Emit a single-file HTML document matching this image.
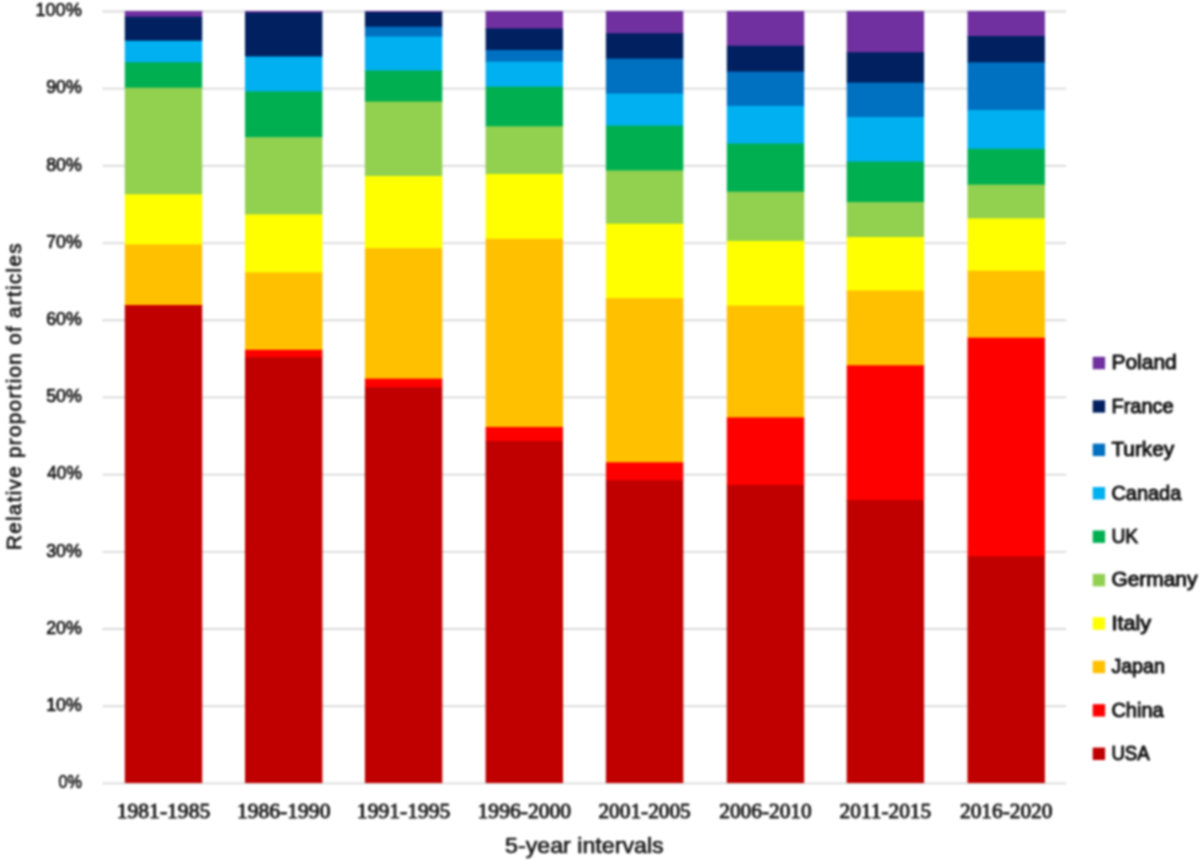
<!DOCTYPE html>
<html><head><meta charset="utf-8"><style>
html,body{margin:0;padding:0;background:#fff;width:1200px;height:860px;overflow:hidden}
svg{display:block;filter:blur(1px);}
text{stroke-linejoin:round}
.yl{font-family:"Liberation Sans",sans-serif;font-size:19.2px;fill:#101010;stroke:#101010;stroke-width:0.7px}
.xl{font-family:"Liberation Serif",serif;font-size:21px;fill:#1c1c1c;stroke:#1c1c1c;stroke-width:0.9px}
.lg{font-family:"Liberation Sans",sans-serif;font-size:20px;fill:#141414;stroke:#141414;stroke-width:1.0px}
.yt{font-size:20.6px !important;stroke-width:0.75px !important}
.at{font-family:"Liberation Sans",sans-serif;font-size:21.8px;fill:#1c1c1c;stroke:#1c1c1c;stroke-width:0.7px}
</style></head><body>
<svg width="1200" height="860" viewBox="0 0 1200 860">
<rect width="1200" height="860" fill="#fff"/>
<line x1="102.5" x2="1066" y1="783.40" y2="783.40" stroke="#D9D9D9" stroke-width="1.8"/>
<line x1="102.5" x2="1066" y1="706.21" y2="706.21" stroke="#D9D9D9" stroke-width="1.8"/>
<line x1="102.5" x2="1066" y1="629.02" y2="629.02" stroke="#D9D9D9" stroke-width="1.8"/>
<line x1="102.5" x2="1066" y1="551.83" y2="551.83" stroke="#D9D9D9" stroke-width="1.8"/>
<line x1="102.5" x2="1066" y1="474.64" y2="474.64" stroke="#D9D9D9" stroke-width="1.8"/>
<line x1="102.5" x2="1066" y1="397.45" y2="397.45" stroke="#D9D9D9" stroke-width="1.8"/>
<line x1="102.5" x2="1066" y1="320.26" y2="320.26" stroke="#D9D9D9" stroke-width="1.8"/>
<line x1="102.5" x2="1066" y1="243.07" y2="243.07" stroke="#D9D9D9" stroke-width="1.8"/>
<line x1="102.5" x2="1066" y1="165.88" y2="165.88" stroke="#D9D9D9" stroke-width="1.8"/>
<line x1="102.5" x2="1066" y1="88.69" y2="88.69" stroke="#D9D9D9" stroke-width="1.8"/>
<line x1="102.5" x2="1066" y1="11.50" y2="11.50" stroke="#D9D9D9" stroke-width="1.8"/>
<rect x="124.80" y="11.00" width="77.4" height="6.40" fill="#7030A0"/>
<rect x="124.80" y="16.70" width="77.4" height="24.70" fill="#002060"/>
<rect x="124.80" y="40.70" width="77.4" height="22.30" fill="#00B0F0"/>
<rect x="124.80" y="62.30" width="77.4" height="26.10" fill="#00B050"/>
<rect x="124.80" y="87.70" width="77.4" height="107.30" fill="#92D050"/>
<rect x="124.80" y="194.30" width="77.4" height="50.80" fill="#FFFF00"/>
<rect x="124.80" y="244.40" width="77.4" height="61.30" fill="#FFC000"/>
<rect x="124.80" y="305.00" width="77.4" height="1.00" fill="#FF0000"/>
<rect x="124.80" y="305.30" width="77.4" height="477.70" fill="#C00000"/>
<rect x="245.00" y="11.00" width="77.4" height="2.20" fill="#7030A0"/>
<rect x="245.00" y="12.50" width="77.4" height="44.70" fill="#002060"/>
<rect x="245.00" y="56.50" width="77.4" height="35.60" fill="#00B0F0"/>
<rect x="245.00" y="91.40" width="77.4" height="46.50" fill="#00B050"/>
<rect x="245.00" y="137.20" width="77.4" height="77.90" fill="#92D050"/>
<rect x="245.00" y="214.40" width="77.4" height="58.60" fill="#FFFF00"/>
<rect x="245.00" y="272.30" width="77.4" height="78.20" fill="#FFC000"/>
<rect x="245.00" y="349.80" width="77.4" height="8.10" fill="#FF0000"/>
<rect x="245.00" y="357.20" width="77.4" height="425.80" fill="#C00000"/>
<rect x="364.90" y="11.00" width="77.4" height="1.70" fill="#7030A0"/>
<rect x="364.90" y="12.00" width="77.4" height="15.40" fill="#002060"/>
<rect x="364.90" y="26.70" width="77.4" height="10.50" fill="#0070C0"/>
<rect x="364.90" y="36.50" width="77.4" height="34.70" fill="#00B0F0"/>
<rect x="364.90" y="70.50" width="77.4" height="31.80" fill="#00B050"/>
<rect x="364.90" y="101.60" width="77.4" height="75.10" fill="#92D050"/>
<rect x="364.90" y="176.00" width="77.4" height="72.80" fill="#FFFF00"/>
<rect x="364.90" y="248.10" width="77.4" height="131.20" fill="#FFC000"/>
<rect x="364.90" y="378.60" width="77.4" height="9.30" fill="#FF0000"/>
<rect x="364.90" y="387.20" width="77.4" height="395.80" fill="#C00000"/>
<rect x="485.60" y="11.00" width="77.4" height="18.10" fill="#7030A0"/>
<rect x="485.60" y="28.40" width="77.4" height="22.30" fill="#002060"/>
<rect x="485.60" y="50.00" width="77.4" height="12.30" fill="#0070C0"/>
<rect x="485.60" y="61.60" width="77.4" height="25.80" fill="#00B0F0"/>
<rect x="485.60" y="86.70" width="77.4" height="40.30" fill="#00B050"/>
<rect x="485.60" y="126.30" width="77.4" height="48.40" fill="#92D050"/>
<rect x="485.60" y="174.00" width="77.4" height="65.50" fill="#FFFF00"/>
<rect x="485.60" y="238.80" width="77.4" height="188.90" fill="#FFC000"/>
<rect x="485.60" y="427.00" width="77.4" height="14.60" fill="#FF0000"/>
<rect x="485.60" y="440.90" width="77.4" height="342.10" fill="#C00000"/>
<rect x="605.90" y="11.00" width="77.4" height="23.00" fill="#7030A0"/>
<rect x="605.90" y="33.30" width="77.4" height="26.00" fill="#002060"/>
<rect x="605.90" y="58.60" width="77.4" height="35.60" fill="#0070C0"/>
<rect x="605.90" y="93.50" width="77.4" height="32.80" fill="#00B0F0"/>
<rect x="605.90" y="125.60" width="77.4" height="45.60" fill="#00B050"/>
<rect x="605.90" y="170.50" width="77.4" height="53.90" fill="#92D050"/>
<rect x="605.90" y="223.70" width="77.4" height="75.10" fill="#FFFF00"/>
<rect x="605.90" y="298.10" width="77.4" height="164.90" fill="#FFC000"/>
<rect x="605.90" y="462.30" width="77.4" height="18.60" fill="#FF0000"/>
<rect x="605.90" y="480.20" width="77.4" height="302.80" fill="#C00000"/>
<rect x="726.80" y="11.00" width="77.4" height="35.50" fill="#7030A0"/>
<rect x="726.80" y="45.80" width="77.4" height="26.50" fill="#002060"/>
<rect x="726.80" y="71.60" width="77.4" height="34.90" fill="#0070C0"/>
<rect x="726.80" y="105.80" width="77.4" height="38.40" fill="#00B0F0"/>
<rect x="726.80" y="143.50" width="77.4" height="48.90" fill="#00B050"/>
<rect x="726.80" y="191.70" width="77.4" height="49.90" fill="#92D050"/>
<rect x="726.80" y="240.90" width="77.4" height="65.40" fill="#FFFF00"/>
<rect x="726.80" y="305.60" width="77.4" height="112.50" fill="#FFC000"/>
<rect x="726.80" y="417.40" width="77.4" height="68.20" fill="#FF0000"/>
<rect x="726.80" y="484.90" width="77.4" height="298.10" fill="#C00000"/>
<rect x="846.70" y="11.00" width="77.4" height="42.00" fill="#7030A0"/>
<rect x="846.70" y="52.30" width="77.4" height="31.00" fill="#002060"/>
<rect x="846.70" y="82.60" width="77.4" height="35.10" fill="#0070C0"/>
<rect x="846.70" y="117.00" width="77.4" height="45.30" fill="#00B0F0"/>
<rect x="846.70" y="161.60" width="77.4" height="41.20" fill="#00B050"/>
<rect x="846.70" y="202.10" width="77.4" height="35.60" fill="#92D050"/>
<rect x="846.70" y="237.00" width="77.4" height="54.20" fill="#FFFF00"/>
<rect x="846.70" y="290.50" width="77.4" height="75.50" fill="#FFC000"/>
<rect x="846.70" y="365.30" width="77.4" height="135.40" fill="#FF0000"/>
<rect x="846.70" y="500.00" width="77.4" height="283.00" fill="#C00000"/>
<rect x="967.50" y="11.00" width="77.4" height="25.70" fill="#7030A0"/>
<rect x="967.50" y="36.00" width="77.4" height="27.00" fill="#002060"/>
<rect x="967.50" y="62.30" width="77.4" height="48.40" fill="#0070C0"/>
<rect x="967.50" y="110.00" width="77.4" height="39.50" fill="#00B0F0"/>
<rect x="967.50" y="148.80" width="77.4" height="36.50" fill="#00B050"/>
<rect x="967.50" y="184.60" width="77.4" height="34.50" fill="#92D050"/>
<rect x="967.50" y="218.40" width="77.4" height="53.00" fill="#FFFF00"/>
<rect x="967.50" y="270.70" width="77.4" height="67.70" fill="#FFC000"/>
<rect x="967.50" y="337.70" width="77.4" height="219.30" fill="#FF0000"/>
<rect x="967.50" y="556.30" width="77.4" height="226.70" fill="#C00000"/>
<text id="y0" x="81.8" y="788.10" text-anchor="end" class="yl" textLength="23.38" lengthAdjust="spacingAndGlyphs">0%</text>
<text id="y1" x="81.8" y="710.91" text-anchor="end" class="yl" textLength="35.58" lengthAdjust="spacingAndGlyphs">10%</text>
<text id="y2" x="81.8" y="633.72" text-anchor="end" class="yl" textLength="35.58" lengthAdjust="spacingAndGlyphs">20%</text>
<text id="y3" x="81.8" y="556.53" text-anchor="end" class="yl" textLength="35.58" lengthAdjust="spacingAndGlyphs">30%</text>
<text id="y4" x="81.8" y="479.34" text-anchor="end" class="yl" textLength="34.66" lengthAdjust="spacingAndGlyphs">40%</text>
<text id="y5" x="81.8" y="402.15" text-anchor="end" class="yl" textLength="35.58" lengthAdjust="spacingAndGlyphs">50%</text>
<text id="y6" x="81.8" y="324.96" text-anchor="end" class="yl" textLength="35.58" lengthAdjust="spacingAndGlyphs">60%</text>
<text id="y7" x="81.8" y="247.77" text-anchor="end" class="yl" textLength="35.58" lengthAdjust="spacingAndGlyphs">70%</text>
<text id="y8" x="81.8" y="170.58" text-anchor="end" class="yl" textLength="35.58" lengthAdjust="spacingAndGlyphs">80%</text>
<text id="y9" x="81.8" y="93.39" text-anchor="end" class="yl" textLength="35.58" lengthAdjust="spacingAndGlyphs">90%</text>
<text id="y10" x="81.8" y="16.20" text-anchor="end" class="yl" textLength="46.32" lengthAdjust="spacingAndGlyphs">100%</text>
<text id="x0" x="163.50" y="818.2" text-anchor="middle" class="xl" textLength="93.43" lengthAdjust="spacingAndGlyphs">1981-1985</text>
<text id="x1" x="283.70" y="818.2" text-anchor="middle" class="xl" textLength="93.43" lengthAdjust="spacingAndGlyphs">1986-1990</text>
<text id="x2" x="403.60" y="818.2" text-anchor="middle" class="xl" textLength="93.43" lengthAdjust="spacingAndGlyphs">1991-1995</text>
<text id="x3" x="524.30" y="818.2" text-anchor="middle" class="xl" textLength="93.43" lengthAdjust="spacingAndGlyphs">1996-2000</text>
<text id="x4" x="644.60" y="818.2" text-anchor="middle" class="xl" textLength="92.40" lengthAdjust="spacingAndGlyphs">2001-2005</text>
<text id="x5" x="765.50" y="818.2" text-anchor="middle" class="xl" textLength="92.40" lengthAdjust="spacingAndGlyphs">2006-2010</text>
<text id="x6" x="885.40" y="818.2" text-anchor="middle" class="xl" textLength="91.61" lengthAdjust="spacingAndGlyphs">2011-2015</text>
<text id="x7" x="1006.20" y="818.2" text-anchor="middle" class="xl" textLength="92.40" lengthAdjust="spacingAndGlyphs">2016-2020</text>
<rect x="1092.7" y="356.80" width="12.4" height="12.4" fill="#7030A0"/>
<text id="l0" x="1111.4" y="369.30" class="lg" textLength="65.34" lengthAdjust="spacingAndGlyphs">Poland</text>
<rect x="1092.7" y="400.22" width="12.4" height="12.4" fill="#002060"/>
<text id="l1" x="1111.4" y="412.72" class="lg" textLength="62.35" lengthAdjust="spacingAndGlyphs">France</text>
<rect x="1092.7" y="443.64" width="12.4" height="12.4" fill="#0070C0"/>
<text id="l2" x="1111.4" y="456.14" class="lg" textLength="62.83" lengthAdjust="spacingAndGlyphs">Turkey</text>
<rect x="1092.7" y="487.06" width="12.4" height="12.4" fill="#00B0F0"/>
<text id="l3" x="1111.4" y="499.56" class="lg" textLength="69.86" lengthAdjust="spacingAndGlyphs">Canada</text>
<rect x="1092.7" y="530.48" width="12.4" height="12.4" fill="#00B050"/>
<text id="l4" x="1111.4" y="542.98" class="lg" textLength="26.77" lengthAdjust="spacingAndGlyphs">UK</text>
<rect x="1092.7" y="573.90" width="12.4" height="12.4" fill="#92D050"/>
<text id="l5" x="1111.4" y="586.40" class="lg" textLength="86.02" lengthAdjust="spacingAndGlyphs">Germany</text>
<rect x="1092.7" y="617.32" width="12.4" height="12.4" fill="#FFFF00"/>
<text id="l6" x="1111.4" y="629.82" class="lg" textLength="39.74" lengthAdjust="spacingAndGlyphs">Italy</text>
<rect x="1092.7" y="660.74" width="12.4" height="12.4" fill="#FFC000"/>
<text id="l7" x="1111.4" y="673.24" class="lg" textLength="53.49" lengthAdjust="spacingAndGlyphs">Japan</text>
<rect x="1092.7" y="704.16" width="12.4" height="12.4" fill="#FF0000"/>
<text id="l8" x="1111.4" y="716.66" class="lg" textLength="52.27" lengthAdjust="spacingAndGlyphs">China</text>
<rect x="1092.7" y="747.58" width="12.4" height="12.4" fill="#C00000"/>
<text id="l9" x="1111.4" y="760.08" class="lg" textLength="38.32" lengthAdjust="spacingAndGlyphs">USA</text>
<text id="xt" x="505" y="853.2" class="at" textLength="158.72" lengthAdjust="spacingAndGlyphs">5-year intervals</text>
<text id="yt" transform="translate(20.8,550) rotate(-90)" class="at yt" textLength="306.60" lengthAdjust="spacing">Relative proportion of articles</text>
</svg>
</body></html>
